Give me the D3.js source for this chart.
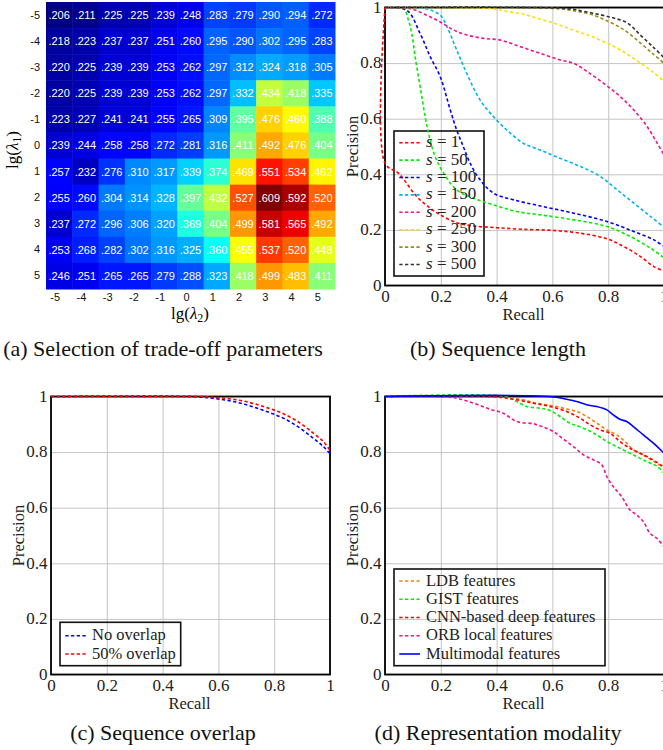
<!DOCTYPE html>
<html>
<head>
<meta charset="utf-8">
<script src="https://cdn.jsdelivr.net/npm/d3@7"></script>
<style>
body { margin: 0; background: #fff; }
svg { display: block; }
</style>
</head>
<body>
<svg id="fig" width="663" height="750"></svg>
<script>

// (a) accuracy for each pair of trade-off parameters, rows lg(l1), cols lg(l2)
var lambdaTicks = [-5, -4, -3, -2, -1, 0, 1, 2, 3, 4, 5];
var tradeOff = [
	[.206, .211, .225, .225, .239, .248, .283, .279, .290, .294, .272],
	[.218, .223, .237, .237, .251, .260, .295, .290, .302, .295, .283],
	[.220, .225, .239, .239, .253, .262, .297, .312, .324, .318, .305],
	[.220, .225, .239, .239, .253, .262, .297, .332, .434, .418, .335],
	[.223, .227, .241, .241, .255, .265, .309, .395, .476, .460, .388],
	[.239, .244, .258, .258, .272, .281, .316, .411, .492, .476, .404],
	[.257, .232, .276, .310, .317, .339, .374, .469, .551, .534, .462],
	[.255, .260, .304, .314, .328, .397, .432, .527, .609, .592, .520],
	[.237, .272, .296, .306, .320, .369, .404, .499, .581, .565, .492],
	[.253, .268, .282, .302, .316, .325, .360, .455, .537, .520, .448],
	[.246, .251, .265, .265, .279, .288, .323, .418, .499, .483, .411]
];

var prTicks = [0, 0.2, 0.4, 0.6, 0.8, 1];

// (b) precision-recall for each sequence length s
var seqLengths = ["1", "50", "100", "150", "200", "250", "300", "500"];
var prS1 = [[0,1],[0,0.44],[0.048,0.404],[0.114,0.32],[0.162,0.278],[0.198,0.254],[0.257,0.226],[0.317,0.214],[0.401,0.208],[0.497,0.202],[0.605,0.198],[0.70,0.188],[0.796,0.168],[0.856,0.14],[0.916,0.104],[0.964,0.068],[1,0.052]];
var prS50 = [[0,1],[0.066,0.996],[0.084,0.954],[0.096,0.906],[0.108,0.823],[0.126,0.715],[0.144,0.607],[0.156,0.547],[0.18,0.463],[0.21,0.404],[0.257,0.344],[0.317,0.314],[0.389,0.29],[0.473,0.266],[0.557,0.254],[0.677,0.236],[0.796,0.212],[0.88,0.176],[0.952,0.134],[1,0.1]];
var prS100 = [[0,1],[0.078,0.99],[0.126,0.906],[0.162,0.823],[0.198,0.751],[0.234,0.631],[0.257,0.559],[0.281,0.499],[0.305,0.44],[0.341,0.38],[0.389,0.332],[0.461,0.308],[0.557,0.286],[0.677,0.26],[0.796,0.23],[0.892,0.194],[0.964,0.164],[1,0.14]];
var prS150 = [[0,1],[0.144,0.996],[0.198,0.972],[0.222,0.931],[0.257,0.847],[0.293,0.763],[0.341,0.667],[0.389,0.607],[0.437,0.559],[0.497,0.511],[0.557,0.487],[0.629,0.457],[0.701,0.428],[0.772,0.392],[0.832,0.344],[0.892,0.296],[0.952,0.248],[1,0.21]];
var prS200 = [[0,1],[0.09,0.996],[0.15,0.972],[0.198,0.948],[0.246,0.919],[0.293,0.901],[0.353,0.889],[0.413,0.883],[0.485,0.859],[0.557,0.835],[0.629,0.811],[0.677,0.799],[0.725,0.769],[0.784,0.727],[0.844,0.679],[0.892,0.631],[0.94,0.571],[0.976,0.511],[1,0.47]];
var prS250 = [[0,1],[0.377,0.996],[0.437,0.986],[0.497,0.976],[0.557,0.958],[0.617,0.94],[0.677,0.918],[0.737,0.897],[0.796,0.872],[0.856,0.84],[0.916,0.8],[0.964,0.765],[1,0.735]];
var prS300 = [[0,1],[0.617,0.996],[0.677,0.988],[0.737,0.976],[0.796,0.952],[0.856,0.92],[0.916,0.872],[0.964,0.83],[1,0.8]];
var prS500 = [[0,1],[0.653,0.996],[0.713,0.986],[0.772,0.974],[0.82,0.962],[0.868,0.945],[0.916,0.9],[0.964,0.855],[1,0.82]];

// (c) overlap between sequences
var overlapNames = ["No overlap", "50% overlap"];
var prNoOverlap = [[0,1],[0.475,1],[0.535,0.998],[0.594,0.992],[0.654,0.982],[0.714,0.966],[0.773,0.946],[0.833,0.922],[0.893,0.886],[0.94,0.85],[0.976,0.82],[1,0.794]];
var prHalfOverlap = [[0,1],[0.535,1],[0.594,0.996],[0.654,0.99],[0.714,0.978],[0.773,0.96],[0.833,0.938],[0.893,0.904],[0.94,0.868],[0.976,0.838],[1,0.806]];

// (d) feature types
var featureNames = ["LDB features", "GIST features", "CNN-based deep features", "ORB local features", "Multimodal features"];
var prLdb = [[0,1],[0.4,1],[0.484,0.99],[0.544,0.976],[0.603,0.966],[0.651,0.955],[0.687,0.946],[0.723,0.928],[0.759,0.904],[0.795,0.88],[0.83,0.862],[0.866,0.832],[0.89,0.808],[0.914,0.796],[0.944,0.778],[0.974,0.76],[1,0.744]];
var prGist = [[0,1],[0.43,1],[0.472,0.982],[0.508,0.964],[0.556,0.958],[0.591,0.95],[0.627,0.928],[0.663,0.904],[0.711,0.886],[0.759,0.862],[0.795,0.838],[0.842,0.814],[0.89,0.79],[0.938,0.766],[0.974,0.75],[1,0.724]];
var prCnn = [[0,1],[0.38,1],[0.46,0.99],[0.532,0.976],[0.591,0.964],[0.651,0.946],[0.699,0.922],[0.735,0.898],[0.771,0.88],[0.806,0.868],[0.842,0.838],[0.878,0.814],[0.914,0.796],[0.95,0.778],[1,0.746]];
var prOrb = [[0,1],[0.198,1],[0.257,0.994],[0.317,0.976],[0.377,0.954],[0.424,0.94],[0.472,0.91],[0.532,0.902],[0.567,0.89],[0.603,0.874],[0.639,0.847],[0.675,0.82],[0.711,0.79],[0.747,0.772],[0.777,0.754],[0.795,0.712],[0.818,0.676],[0.848,0.64],[0.878,0.592],[0.902,0.574],[0.926,0.55],[0.95,0.508],[0.974,0.49],[1,0.46]];
var prMulti = [[0,1],[0.59,1],[0.651,0.99],[0.687,0.982],[0.723,0.97],[0.759,0.964],[0.795,0.952],[0.818,0.934],[0.842,0.918],[0.866,0.91],[0.89,0.892],[0.926,0.862],[0.962,0.832],[1,0.796]];


var SERIF = "'Liberation Serif', 'Times New Roman', serif";
var SANS = "'Liberation Sans', Arial, sans-serif";
var DASH = "3.3,2.4";

var svg = d3.select("#fig");


// matlab jet colour map
function jet(lo, hi) {
	var s = d3.scaleLinear()
		.domain([0, 0.125, 0.375, 0.625, 0.875, 1])
		.range(["#000080", "#0000ff", "#00ffff", "#ffff00", "#ff0000", "#800000"]);
	return function(v) { return s((v - lo) / (hi - lo)); };
}


function drawHeatmap() {

	var g = svg.append("g");
	var x = d3.scaleBand().domain(lambdaTicks).range([46, 335]);
	var y = d3.scaleBand().domain(lambdaTicks).range([2, 289]);
	var all = d3.merge(tradeOff);
	var colour = jet(d3.min(all), d3.max(all));

	var cells = [];
	tradeOff.forEach(function(row, i) {
		row.forEach(function(v, j) {
			cells.push({ r: lambdaTicks[i], c: lambdaTicks[j], v: v });
		});
	});

	g.selectAll("rect")
		.data(cells)
		.enter().append("rect")
		.attr("x", function(d) { return x(d.c); })
		.attr("y", function(d) { return y(d.r); })
		.attr("width", x.bandwidth() + 0.5)
		.attr("height", y.bandwidth() + 0.5)
		.style("fill", function(d) { return colour(d.v); });

	g.selectAll("text.val")
		.data(cells)
		.enter().append("text")
		.attr("class", "val")
		.attr("x", function(d) { return x(d.c) + x.bandwidth() / 2; })
		.attr("y", function(d) { return y(d.r) + y.bandwidth() / 2; })
		.attr("dy", "0.36em")
		.attr("text-anchor", "middle")
		.style("font-family", SANS)
		.style("font-size", "11px")
		.style("fill", "#fff")
		.text(function(d) { return d3.format(".3f")(d.v).replace(/^0/, ""); });

	var xAxis = g.append("g")
		.attr("transform", "translate(0,289)")
		.call(d3.axisBottom(x).tickSize(0).tickPadding(4));
	var yAxis = g.append("g")
		.attr("transform", "translate(46,0)")
		.call(d3.axisLeft(y).tickSize(0).tickPadding(6));

	[xAxis, yAxis].forEach(function(a) {
		a.select(".domain").remove();
		a.attr("font-family", SANS).attr("font-size", 11);
		a.selectAll("text").style("fill", "#111");
	});
	xAxis.selectAll("text").attr("dx", -4);

	var xl = g.append("text")
		.attr("x", 190)
		.attr("y", 319)
		.attr("text-anchor", "middle")
		.style("font-family", SERIF)
		.style("font-size", "17px");
	xl.append("tspan").text("lg(");
	xl.append("tspan").style("font-style", "italic").text("λ");
	xl.append("tspan").attr("dy", 3).style("font-size", "12px").text("2");
	xl.append("tspan").attr("dy", -3).text(")");

	var yl = g.append("text")
		.attr("transform", "translate(18,150) rotate(-90)")
		.attr("text-anchor", "middle")
		.style("font-family", SERIF)
		.style("font-size", "17px");
	yl.append("tspan").text("lg(");
	yl.append("tspan").style("font-style", "italic").text("λ");
	yl.append("tspan").attr("dy", 3).style("font-size", "12px").text("1");
	yl.append("tspan").attr("dy", -3).text(")");
}


// one precision-recall panel with its legend
function drawPR(box, series, legend) {

	var g = svg.append("g");
	var x = d3.scaleLinear().domain([0, 1]).range([box.x, box.x + box.w]);
	var y = d3.scaleLinear().domain([0, 1]).range([box.y + box.h, box.y]);
	var fmt = function(d) { return (d === 0 || d === 1) ? String(d) : d.toFixed(1); };

	var xAxis = g.append("g")
		.attr("transform", "translate(0," + (box.y + box.h) + ")")
		.call(d3.axisBottom(x).tickValues(prTicks).tickFormat(fmt)
			.tickSize(-box.h).tickPadding(4));
	var yAxis = g.append("g")
		.attr("transform", "translate(" + box.x + ",0)")
		.call(d3.axisLeft(y).tickValues(prTicks).tickFormat(fmt)
			.tickSize(-box.w).tickPadding(3.5));

	[xAxis, yAxis].forEach(function(a) {
		a.select(".domain").remove();
		a.attr("font-family", SERIF).attr("font-size", 17);
		a.selectAll("line").style("stroke", "#c4c4c4").style("stroke-width", 1);
		a.selectAll("text").style("fill", "#222");
	});
	yAxis.selectAll("text").attr("dy", "0.28em");

	g.append("rect")
		.attr("x", box.x)
		.attr("y", box.y)
		.attr("width", box.w)
		.attr("height", box.h)
		.style("fill", "none")
		.style("stroke", "#000")
		.style("stroke-width", 1.8);

	g.append("text")
		.attr("x", box.x + box.w / 2 - 1)
		.attr("y", box.y + box.h + 34)
		.attr("text-anchor", "middle")
		.style("font-family", SERIF)
		.style("font-size", "16.5px")
		.style("fill", "#222")
		.text("Recall");

	g.append("text")
		.attr("transform", "translate(" + (box.x - 27) + "," + (box.y + box.h / 2) + ") rotate(-90)")
		.attr("text-anchor", "middle")
		.style("font-family", SERIF)
		.style("font-size", "16.5px")
		.style("fill", "#222")
		.text("Precision");

	// legend frame sits under the curves, no fill
	g.append("rect")
		.attr("x", legend.x)
		.attr("y", legend.y)
		.attr("width", legend.w)
		.attr("height", legend.h)
		.style("fill", "none")
		.style("stroke", "#111")
		.style("stroke-width", 1.6);

	var line = d3.line()
		.x(function(d) { return x(d[0]); })
		.y(function(d) { return y(d[1]); })
		.curve(d3.curveCatmullRom.alpha(0.5));

	g.selectAll("path.curve")
		.data(series)
		.enter().append("path")
		.attr("class", "curve")
		.attr("d", function(d) { return line(d.points); })
		.style("fill", "none")
		.style("stroke", function(d) { return d.colour; })
		.style("stroke-width", 1.6)
		.style("stroke-dasharray", function(d) { return d.solid ? null : DASH; });

	var rows = g.selectAll("g.entry")
		.data(series)
		.enter().append("g")
		.attr("class", "entry")
		.attr("transform", function(d, i) {
			return "translate(" + legend.x + "," + (legend.row0 + i * legend.step) + ")";
		});

	rows.append("line")
		.attr("x1", 5.3)
		.attr("x2", 26)
		.style("stroke", function(d) { return d.colour; })
		.style("stroke-width", 1.6)
		.style("stroke-dasharray", function(d) { return d.solid ? null : DASH; });

	rows.append("text")
		.attr("x", 32)
		.attr("y", 4.5)
		.style("font-family", SERIF)
		.style("font-size", legend.font + "px")
		.style("fill", "#222")
		.each(function(d) {
			var t = d3.select(this);
			if (d.sLabel) {
				t.append("tspan").style("font-style", "italic").text("s");
				t.append("tspan").text(" = " + d.sLabel);
			} else {
				t.text(d.name);
			}
		});
}


function caption(text, cx, cy) {
	svg.append("text")
		.attr("x", cx)
		.attr("y", cy)
		.attr("text-anchor", "middle")
		.style("font-family", SERIF)
		.style("font-size", "22px")
		.style("fill", "#111")
		.text(text);
}


drawHeatmap();

var seqCurves = [prS1, prS50, prS100, prS150, prS200, prS250, prS300, prS500];
var seqColours = ["#ff0000", "#00ee00", "#0000ff", "#00b4f0", "#f0148c", "#ffe000", "#9a8a10", "#333333"];
drawPR({ x: 385, y: 7.5, w: 279, h: 278 },
	seqCurves.map(function(c, i) {
		return { points: c, colour: seqColours[i], sLabel: seqLengths[i] };
	}),
	{ x: 394, y: 131, w: 90, h: 145, row0: 142.7, step: 17.4, font: 17 });

var overlapCurves = [prNoOverlap, prHalfOverlap];
var overlapColours = ["#0000ff", "#ff0000"];
drawPR({ x: 51, y: 396.5, w: 279, h: 278 },
	overlapCurves.map(function(c, i) {
		return { points: c, colour: overlapColours[i], name: overlapNames[i] };
	}),
	{ x: 60, y: 622.3, w: 120.7, h: 43.4, row0: 635.7, step: 18.3, font: 16.5 });

var featureCurves = [prLdb, prGist, prCnn, prOrb, prMulti];
var featureColours = ["#ff8000", "#00ee00", "#ff0000", "#f0148c", "#0000ff"];
drawPR({ x: 385, y: 396.5, w: 279, h: 278 },
	featureCurves.map(function(c, i) {
		return { points: c, colour: featureColours[i], name: featureNames[i], solid: i === 4 };
	}),
	{ x: 394, y: 569, w: 211, h: 96.7, row0: 581, step: 18.25, font: 16.5 });

caption("(a) Selection of trade-off parameters", 163, 356);
caption("(b) Sequence length", 498, 356);
caption("(c) Sequence overlap", 163, 740);
caption("(d) Representation modality", 498, 740);

</script>
</body>
</html>
